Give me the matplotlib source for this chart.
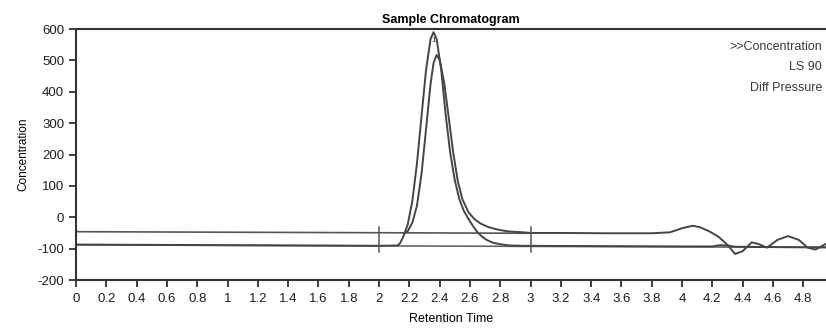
import matplotlib.pyplot as plt
import numpy as np

plt.rcParams['font.family'] = ['Liberation Sans', 'DejaVu Sans']
plt.rcParams['axes.unicode_minus'] = False

# trace 1 (sits on the lower baseline, tallest peak)
t1_x = [0.0, 0.5, 1.0, 1.5, 2.0, 2.12, 2.14, 2.16, 2.19, 2.22, 2.25, 2.28, 2.31, 2.34, 2.36,
        2.38, 2.41, 2.44, 2.47, 2.50, 2.53, 2.56, 2.59, 2.62, 2.65, 2.68, 2.71, 2.75, 2.80,
        2.86, 2.95, 3.5, 4.0, 4.2, 4.25, 4.3, 4.35, 4.6, 4.95]
t1_y = [-87, -88, -89, -90, -91, -90, -82, -62, -22, 52, 170, 320, 468, 568, 590,
        569, 472, 326, 205, 118, 58, 20, -5, -28, -48, -62, -72, -81, -86,
        -90, -91, -92, -93, -93, -89, -90, -94, -95, -96]

# trace 2 (sits on the upper baseline, continues to the right)
t2_x = [2.17, 2.19, 2.22, 2.25, 2.28, 2.31, 2.34, 2.36, 2.38, 2.40, 2.43, 2.46, 2.49, 2.52,
        2.55, 2.59, 2.63, 2.67, 2.72, 2.78, 2.85, 2.95, 3.0, 3.2, 3.5, 3.8, 3.92,
        4.0, 4.07, 4.12, 4.18, 4.24, 4.30, 4.35, 4.40, 4.46, 4.51, 4.56, 4.63, 4.70,
        4.77, 4.83, 4.88, 4.93, 4.96]
t2_y = [-51, -44, -17, 36, 136, 279, 425, 492, 517, 502, 429, 318, 205, 115,
        58, 16, -6, -20, -31, -39, -45, -48, -50, -50, -51, -51, -48,
        -35, -27, -32, -45, -62, -88, -117, -108, -80, -86, -97, -72, -60,
        -72, -97, -103, -90, -82]

# straight integration baselines
base_hi_x = [0.0, 3.0]
base_hi_y = [-46, -51]
base_lo_x = [0.0, 4.95]
base_lo_y = [-88, -96]

# integration limits
limits = [2.0, 3.0]
limit_span = (-30, -112)

xticks = np.round(np.arange(0, 4.81, 0.2), 1)
xticklabels = ['%g' % v for v in xticks]
yticks = [-200, -100, 0, 100, 200, 300, 400, 500, 600]

fig = plt.figure(figsize=(8.26, 3.30), dpi=100)
ax = fig.add_axes([0.092, 0.1515, 0.908, 0.7605])

col = '#454545'
ax.plot(base_hi_x, base_hi_y, color='#555555', lw=1.2)
ax.plot(base_lo_x, base_lo_y, color='#666666', lw=1.2)
ax.plot(t1_x, t1_y, color=col, lw=1.4)
ax.plot(t2_x, t2_y, color=col, lw=1.4)
for xv in limits:
    ax.plot([xv, xv], limit_span, color='#555555', lw=1.1)

ax.text(2.36, 562, '1', fontsize=6, ha='center', va='center', color='#333333')

ax.set_xlim(0, 4.95)
ax.set_ylim(-200, 600)
ax.set_xticks(xticks)
ax.set_xticklabels(xticklabels)
ax.set_yticks(yticks)
ax.tick_params(axis='both', direction='out', length=5, width=1.2, labelsize=9.5,
               colors='#1e1e1e')
ax.tick_params(axis='x', pad=4)

for s in ['left', 'bottom', 'top']:
    ax.spines[s].set_linewidth(1.5)
    ax.spines[s].set_color('#333333')
ax.spines['right'].set_visible(False)

ax.set_title('Sample Chromatogram', fontsize=9, fontweight='bold', pad=4)
ax.set_xlabel('Retention Time', fontsize=9, labelpad=6)
ax.set_ylabel('Concentration', fontsize=8.5, labelpad=6)

legend_items = ['>>Concentration', 'LS 90', 'Diff Pressure']
for i, lab in enumerate(legend_items):
    ax.text(0.995, 0.93 - i * 0.083, lab, transform=ax.transAxes, ha='right',
            va='center', fontsize=9, color='#3a3a3a')

fig.savefig('out.png', dpi=100)
